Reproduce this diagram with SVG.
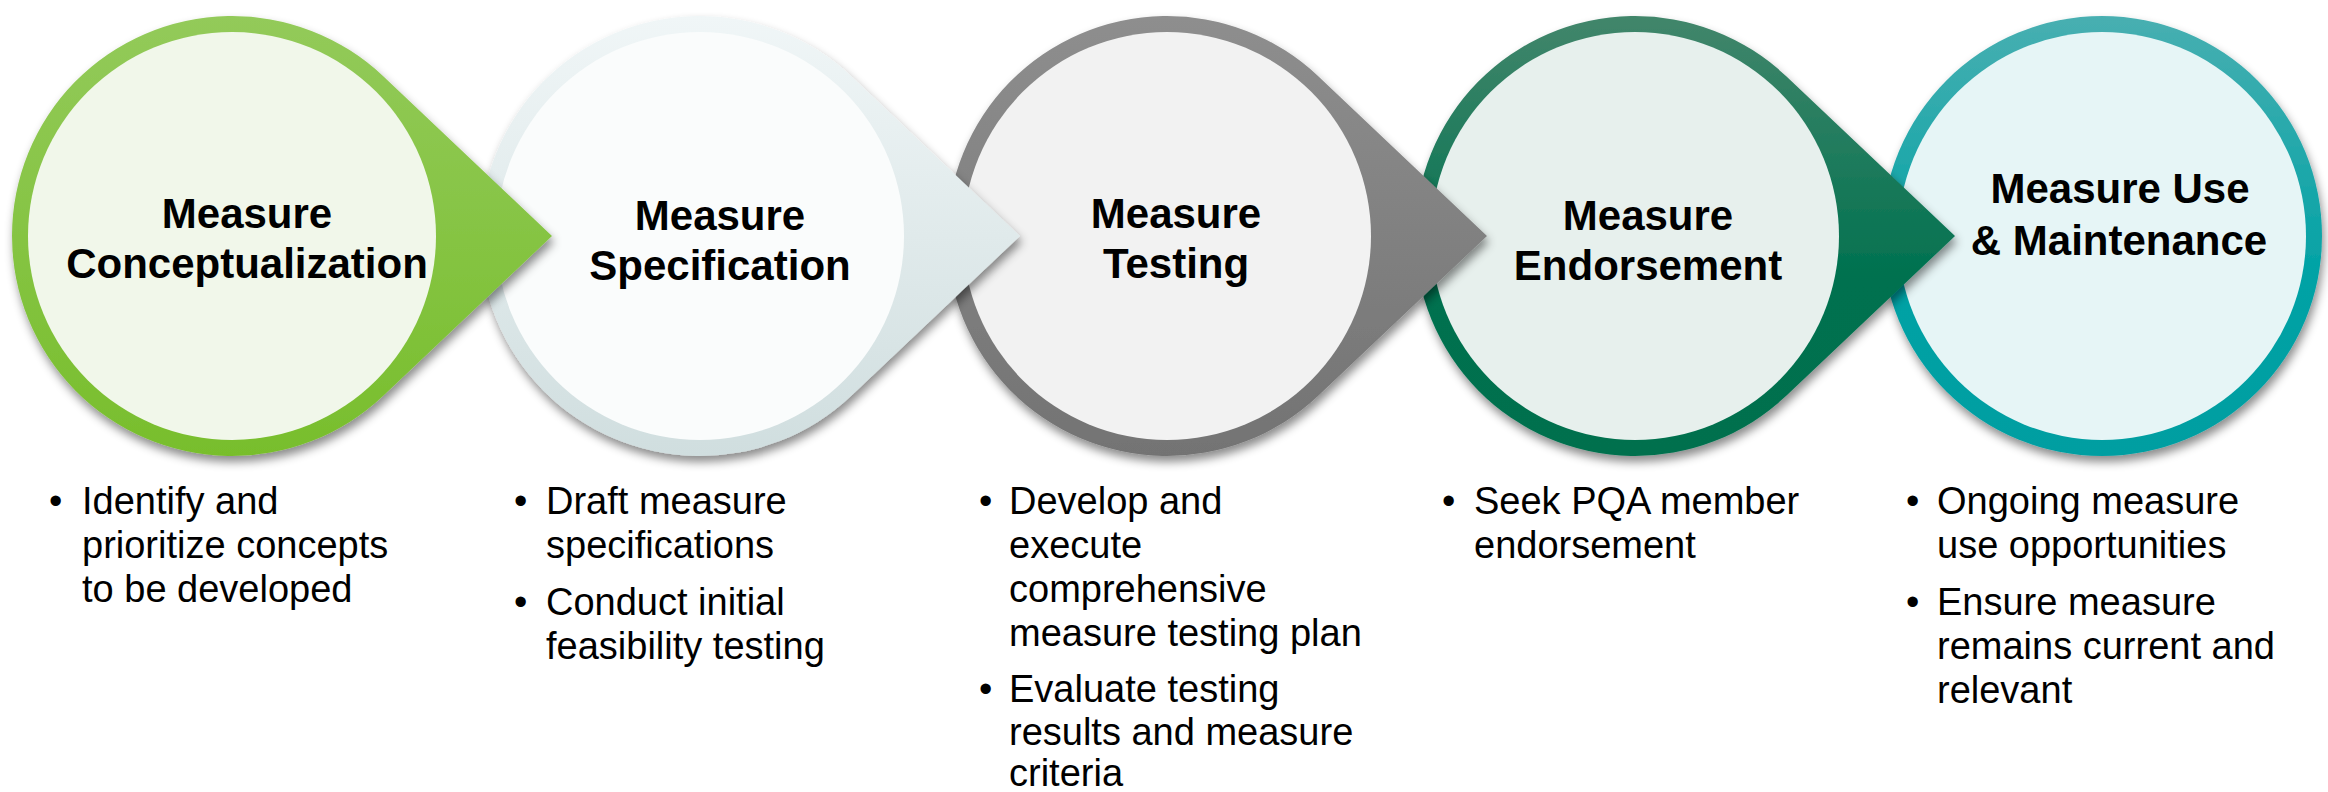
<svg xmlns="http://www.w3.org/2000/svg" width="2328" height="792" viewBox="0 0 2328 792">
<style>
.title{font-family:"Liberation Sans",Arial,sans-serif;font-weight:bold;font-size:42px;fill:#000;text-anchor:middle}
.body{font-family:"Liberation Sans",Arial,sans-serif;font-size:38px;fill:#000}
</style>
<defs>
<filter id="sh" x="-20%" y="-20%" width="140%" height="140%">
<feDropShadow dx="2" dy="6" stdDeviation="5" flood-color="#000" flood-opacity="0.45"/>
</filter>
<path id="drop" d="M151.25,-159.77 L320,0 L151.25,159.77 A220,220 0 1 1 151.25,-159.77 Z"/>
<linearGradient id="g1" x1="0" y1="0" x2="0" y2="1"><stop offset="0" stop-color="#93CA5A"/><stop offset="1" stop-color="#78BE2C"/></linearGradient>
<linearGradient id="g2" x1="0" y1="0" x2="0" y2="1"><stop offset="0" stop-color="#F0F6F7"/><stop offset="1" stop-color="#D0DEDF"/></linearGradient>
<linearGradient id="g3" x1="0" y1="0" x2="0" y2="1"><stop offset="0" stop-color="#8E8E8E"/><stop offset="1" stop-color="#737373"/></linearGradient>
<linearGradient id="g4" x1="0" y1="0" x2="0" y2="1"><stop offset="0" stop-color="#42866B"/><stop offset="0.6" stop-color="#00714F"/><stop offset="1" stop-color="#00704E"/></linearGradient>
<linearGradient id="g5" x1="0" y1="0" x2="0" y2="1"><stop offset="0" stop-color="#48AFB1"/><stop offset="0.6" stop-color="#00A2A5"/><stop offset="1" stop-color="#009EA1"/></linearGradient>
</defs>

<g id="connectors"></g>

<g id="node5" transform="translate(2102,236)">
<circle r="220" fill="url(#g5)" filter="url(#sh)"/>
<circle r="204" fill="#E6F5F6"/>
<text class="title" x="18" y="-33">Measure Use</text>
<text class="title" x="17" y="19">&amp; Maintenance</text>
</g>

<g id="node4" transform="translate(1635,236)">
<use href="#drop" fill="url(#g4)" filter="url(#sh)"/>
<circle r="204" fill="#E7F0ED"/>
<text class="title" x="13" y="-6">Measure</text>
<text class="title" x="13" y="44">Endorsement</text>
</g>

<g id="node3" transform="translate(1167,236)">
<use href="#drop" fill="url(#g3)" filter="url(#sh)"/>
<circle r="204" fill="#F2F2F2"/>
<text class="title" x="9" y="-8">Measure</text>
<text class="title" x="9" y="42">Testing</text>
</g>

<g id="node2" transform="translate(700,236)">
<use href="#drop" fill="url(#g2)" filter="url(#sh)"/>
<circle r="204" fill="#FAFCFC"/>
<text class="title" x="20" y="-6">Measure</text>
<text class="title" x="20" y="44">Specification</text>
</g>

<g id="node1" transform="translate(232,236)">
<use href="#drop" fill="url(#g1)" filter="url(#sh)"/>
<circle r="204" fill="#F1F7EA"/>
<text class="title" x="15" y="-8">Measure</text>
<text class="title" x="15" y="42">Conceptualization</text>
</g>

<g id="bullets1" class="body">
<text x="49" y="514">•</text>
<text x="82" y="514">Identify and</text>
<text x="82" y="558">prioritize concepts</text>
<text x="82" y="602">to be developed</text>
</g>
<g id="bullets2" class="body">
<text x="514" y="514">•</text>
<text x="546" y="514">Draft measure</text>
<text x="546" y="558">specifications</text>
<text x="514" y="615">•</text>
<text x="546" y="615">Conduct initial</text>
<text x="546" y="659">feasibility testing</text>
</g>
<g id="bullets3" class="body">
<text x="979" y="514">•</text>
<text x="1009" y="514">Develop and</text>
<text x="1009" y="558">execute</text>
<text x="1009" y="602">comprehensive</text>
<text x="1009" y="646">measure testing plan</text>
<text x="979" y="702">•</text>
<text x="1009" y="702">Evaluate testing</text>
<text x="1009" y="745">results and measure</text>
<text x="1009" y="786">criteria</text>
</g>
<g id="bullets4" class="body">
<text x="1442" y="514">•</text>
<text x="1474" y="514">Seek PQA member</text>
<text x="1474" y="558">endorsement</text>
</g>
<g id="bullets5" class="body">
<text x="1906" y="514">•</text>
<text x="1937" y="514">Ongoing measure</text>
<text x="1937" y="558">use opportunities</text>
<text x="1906" y="615">•</text>
<text x="1937" y="615">Ensure measure</text>
<text x="1937" y="659">remains current and</text>
<text x="1937" y="703">relevant</text>
</g>
</svg>
